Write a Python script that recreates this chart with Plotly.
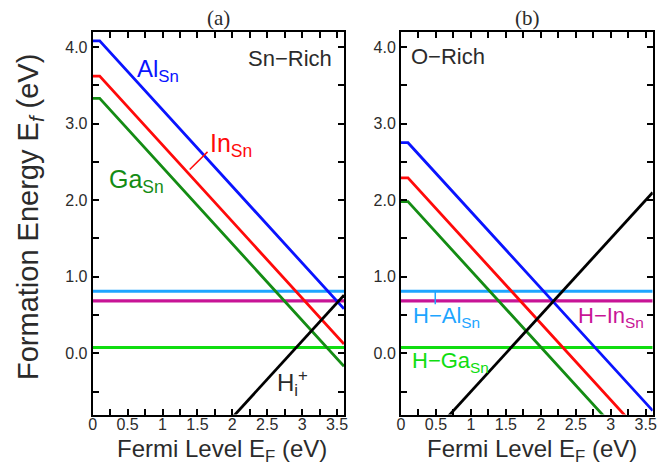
import plotly.graph_objects as go

# the page adds an 8px body margin; the figure is sized to the rest of the window
OFF = 8
W, H = 668 - OFF, 467 - OFF

# ---------------- data ----------------
x_kink = 0.1           # kink of acceptor lines (eV)
x_max = 3.6
y_min, y_max = -0.8, 4.2

# Panel (a): Sn-rich, flat levels of the acceptors (eV)
a_AlSn, a_InSn, a_GaSn = 4.08, 3.62, 3.33
# Panel (b): O-rich
b_AlSn, b_InSn, b_GaSn = 2.75, 2.29, 1.98
# Neutral H-complexes (same in both panels)
H_AlSn, H_InSn, H_GaSn = 0.81, 0.685, 0.075
# Interstitial H_i^+ : E = EF + offset
Hi_a_offset = -2.84
Hi_b_offset = -1.50

x_ticks = [0, 0.5, 1, 1.5, 2, 2.5, 3, 3.5]
x_tick_text = ["0", "0.5", "1", "1.5", "2", "2.5", "3", "3.5"]
y_ticks = [0, 1, 2, 3, 4]
y_tick_text = ["0.0", "1.0", "2.0", "3.0", "4.0"]

# leader lines for In_Sn label (panel a) and H-Al_Sn label (panel b)
lead_a_x = [1.39, 1.645]
lead_a_y = [2.40, 2.63]
lead_b_x = [0.49, 0.49]
lead_b_y = [0.81, 0.64]

C_BLUE = "#0a14ff"
C_RED = "#ff0a0a"
C_GREEN = "#148c14"
C_CYAN = "#1ea5ff"
C_MAG = "#c81496"
C_LGREEN = "#10dd10"
C_TEXT = "#2b2b2b"


def acceptor(level):
    xs = [0, x_kink, x_max]
    ys = [level, level, level + x_kink - x_max]
    return xs, ys


def hi_line(off):
    xs = [0, x_max]
    ys = [0 + off, x_max + off]
    return xs, ys


fig = go.Figure()

panels = [("x", "y", a_AlSn, a_InSn, a_GaSn, Hi_a_offset),
          ("x2", "y2", b_AlSn, b_InSn, b_GaSn, Hi_b_offset)]

for xr, yr, al, inn, ga, hoff in panels:
    for lvl, col in [(H_AlSn, C_CYAN), (H_InSn, C_MAG), (H_GaSn, C_LGREEN)]:
        fig.add_trace(go.Scatter(x=[0, x_max], y=[lvl, lvl], mode="lines",
                                 line=dict(color=col, width=3.2),
                                 xaxis=xr, yaxis=yr, showlegend=False, hoverinfo="skip"))
    for lvl, col in [(ga, C_GREEN), (inn, C_RED), (al, C_BLUE)]:
        xs, ys = acceptor(lvl)
        fig.add_trace(go.Scatter(x=xs, y=ys, mode="lines",
                                 line=dict(color=col, width=2.8),
                                 xaxis=xr, yaxis=yr, showlegend=False, hoverinfo="skip"))
    xs, ys = hi_line(hoff)
    fig.add_trace(go.Scatter(x=xs, y=ys, mode="lines",
                             line=dict(color="black", width=2.8),
                             xaxis=xr, yaxis=yr, showlegend=False, hoverinfo="skip"))

fig.add_trace(go.Scatter(x=lead_a_x, y=lead_a_y, mode="lines",
                         line=dict(color=C_RED, width=1.5),
                         xaxis="x", yaxis="y", showlegend=False, hoverinfo="skip"))
fig.add_trace(go.Scatter(x=lead_b_x, y=lead_b_y, mode="lines",
                         line=dict(color=C_CYAN, width=1.5),
                         xaxis="x2", yaxis="y2", showlegend=False, hoverinfo="skip"))


def px_x(p):
    return (p - OFF) / W


def px_y(p):
    return 1 - (p - OFF) / H


xdomA = [px_x(92.7), px_x(344)]
xdomB = [px_x(401), px_x(652.7)]
ydom = [px_y(414.5), px_y(31.7)]

axis_common = dict(showline=True, linecolor="black", linewidth=2, mirror="ticks",
                   ticks="inside", ticklen=6, tickwidth=1.5, tickcolor="black",
                   showgrid=False, zeroline=False, automargin=False,
                   tickfont=dict(family="Liberation Sans, Arial", size=16, color=C_TEXT))

xaxis_common = dict(axis_common, range=[0, x_max], tickvals=x_ticks, ticktext=x_tick_text,
                    ticklabelstandoff=-6,
                    minor=dict(dtick=0.25, tick0=0, ticks="inside", ticklen=6,
                               tickwidth=1.5, tickcolor="black"))
yaxis_common = dict(axis_common, range=[y_min, y_max], tickvals=y_ticks, ticktext=y_tick_text,
                    minor=dict(dtick=0.5, tick0=0, ticks="inside", ticklen=6,
                               tickwidth=1.5, tickcolor="black"))

fig.update_layout(
    width=W, height=H,
    margin=dict(l=0, r=0, t=0, b=0),
    paper_bgcolor="white", plot_bgcolor="white",
    xaxis=dict(xaxis_common, domain=xdomA, anchor="y"),
    yaxis=dict(yaxis_common, domain=ydom, anchor="x"),
    xaxis2=dict(xaxis_common, domain=xdomB, anchor="y2"),
    yaxis2=dict(yaxis_common, domain=ydom, anchor="x2"),
)

FONT = "Liberation Sans, Arial"
ann = []


def add_text(text, xp, yp, size, color, xanchor="left", yanchor="middle", family=FONT, angle=0):
    ann.append(dict(text=text, x=px_x(xp), y=px_y(yp), xref="paper", yref="paper",
                    xanchor=xanchor, yanchor=yanchor, showarrow=False, textangle=angle,
                    font=dict(family=family, size=size, color=color)))


# titles
add_text("(a)", 218, 17.5, 21, C_TEXT, xanchor="center", family="Liberation Serif, Times New Roman")
add_text("(b)", 527, 17.5, 21, C_TEXT, xanchor="center", family="Liberation Serif, Times New Roman")
# axis titles
add_text("Formation Energy E<sub><i>f</i></sub> (eV)", 30, 217, 29, C_TEXT, xanchor="center", angle=-90)
add_text("Fermi Level E<sub>F</sub> (eV)", 222, 450, 24, C_TEXT, xanchor="center")
add_text("Fermi Level E<sub>F</sub> (eV)", 532, 450, 24, C_TEXT, xanchor="center")
# panel a labels
add_text("Sn\u2212Rich", 246, 58, 22, C_TEXT)
add_text("Al<sub>Sn</sub>", 135, 70, 24, C_BLUE)
add_text("In<sub>Sn</sub>", 208, 145, 25, C_RED)
add_text("Ga<sub>Sn</sub>", 107, 181, 25, C_GREEN)
add_text("H<sub>i</sub><sup>+</sup>", 275, 383, 24, C_TEXT)
# panel b labels
add_text("O\u2212Rich", 409, 57, 22, C_TEXT)
add_text("H\u2212Al<sub>Sn</sub>", 411, 317, 22, C_CYAN)
add_text("H\u2212In<sub>Sn</sub>", 646, 317, 22, C_MAG, xanchor="right")
add_text("H\u2212Ga<sub>Sn</sub>", 410, 362, 22, C_LGREEN)

fig.update_layout(annotations=ann)

fig.write_html("out.html")
